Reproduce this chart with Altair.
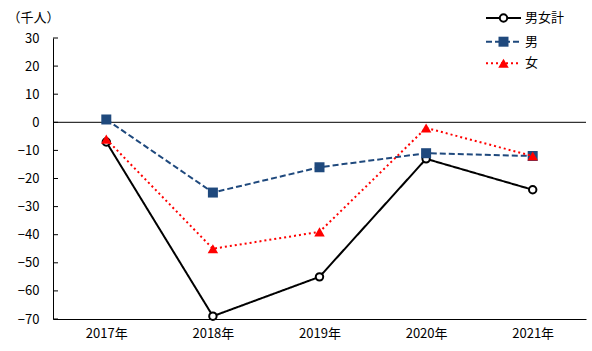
import altair as alt
import pandas as pd

years = ["2017年", "2018年", "2019年", "2020年", "2021年"]
series = ["男女計", "男", "女"]
total = [-7, -69, -55, -13, -24]
male = [1, -25, -16, -11, -12]
female = [-6, -45, -39, -2, -12]
y_ticks = [-70, -60, -50, -40, -30, -20, -10, 0, 10, 20, 30]

FONT = "Noto Sans CJK JP"
W, H = 533, 281

rows = []
for name, vals in zip(series, [total, male, female]):
    for yr, v in zip(years, vals):
        rows.append({"year": yr, "series": name, "value": v})
df = pd.DataFrame(rows)

styles = {
    "男女計": dict(color="#000000", dash=[1, 0], shape="circle", size=55, filled=False),
    "男": dict(color="#1F497D", dash=[6, 3], shape="square", size=100, filled=True),
    "女": dict(color="#FF0000", dash=[2, 3], shape="triangle-up", size=110, filled=True),
}

x_scale = alt.Scale(type="point", padding=0.5)
y_scale = alt.Scale(domain=[-70, 30], nice=False, zero=False)
x_ax = alt.Axis(title=None, labelAngle=0, ticks=False, labelPadding=8)
y_ax = alt.Axis(values=y_ticks, grid=False, ticks=False, labelPadding=14, format="d",
                labelExpr="replace(datum.label, /[-\u2212]/, '\u2212')",
                title="（千人）", titleAngle=0, titleAlign="left",
                titleBaseline="middle", titleX=-46, titleY=-21)

X = alt.X("year:N", sort=years, scale=x_scale, axis=x_ax)
Y = alt.Y("value:Q", scale=y_scale, axis=y_ax)

base = alt.Chart(df)

layers = []
# zero line
layers.append(alt.Chart(pd.DataFrame({"value": [0]})).mark_rule(color="#000000", strokeWidth=1)
              .encode(y=Y))
# inner ticks on y axis
layers.append(alt.Chart(pd.DataFrame({"value": y_ticks})).mark_rule(color="#000000", strokeWidth=1)
              .encode(y=Y, x=alt.value(0), x2=alt.value(5)))

for name in series:
    s = styles[name]
    sub = base.transform_filter(alt.datum.series == name)
    line = sub.mark_line(color=s["color"], strokeWidth=2, strokeDash=s["dash"]).encode(x=X, y=Y)
    if s["filled"]:
        pt = sub.mark_point(shape=s["shape"], size=s["size"], filled=True, fill=s["color"],
                            color=s["color"], opacity=1, strokeWidth=0)
    else:
        pt = sub.mark_point(shape=s["shape"], size=s["size"], filled=True, fill="#FFFFFF",
                            stroke=s["color"], strokeWidth=2, opacity=1)
    layers += [line, pt.encode(x=X, y=Y)]

# manual legend
leg_y = [-20, 3.7, 25.3]
for name, ly in zip(series, leg_y):
    s = styles[name]
    one = alt.Chart(pd.DataFrame({"series": [name]}))
    layers.append(one.mark_rule(color=s["color"], strokeWidth=2, strokeDash=s["dash"]).encode(
        x=alt.value(433), x2=alt.value(468), y=alt.value(ly)))
    if s["filled"]:
        lp = one.mark_point(shape=s["shape"], size=s["size"], filled=True, fill=s["color"],
                            color=s["color"], opacity=1, strokeWidth=0)
    else:
        lp = one.mark_point(shape=s["shape"], size=s["size"], filled=True, fill="#FFFFFF",
                            stroke=s["color"], strokeWidth=2, opacity=1)
    layers.append(lp.encode(x=alt.value(450.5), y=alt.value(ly)))
    layers.append(one.mark_text(align="left", baseline="middle", font=FONT, fontSize=13,
                                fontWeight="normal", color="#000000").encode(
        x=alt.value(472), y=alt.value(ly), text="series:N"))

chart = alt.layer(*layers).properties(
    width=W, height=H,
    autosize=alt.AutoSizeParams(type="none"),
    padding={"left": 53, "top": 38, "right": 6, "bottom": 32},
    background="#FFFFFF",
).configure_view(stroke=None).configure_axis(
    labelFont=FONT, labelFontSize=13, labelColor="#000000", labelFontWeight="normal",
    labelOverlap=False, labelBound=False, labelFlush=False,
    domainColor="#000000", domainWidth=1,
    titleFont=FONT, titleFontSize=13, titleFontWeight="normal", titleColor="#000000",
)

chart.save("out.html", embed_options={"renderer": "svg", "actions": False})
